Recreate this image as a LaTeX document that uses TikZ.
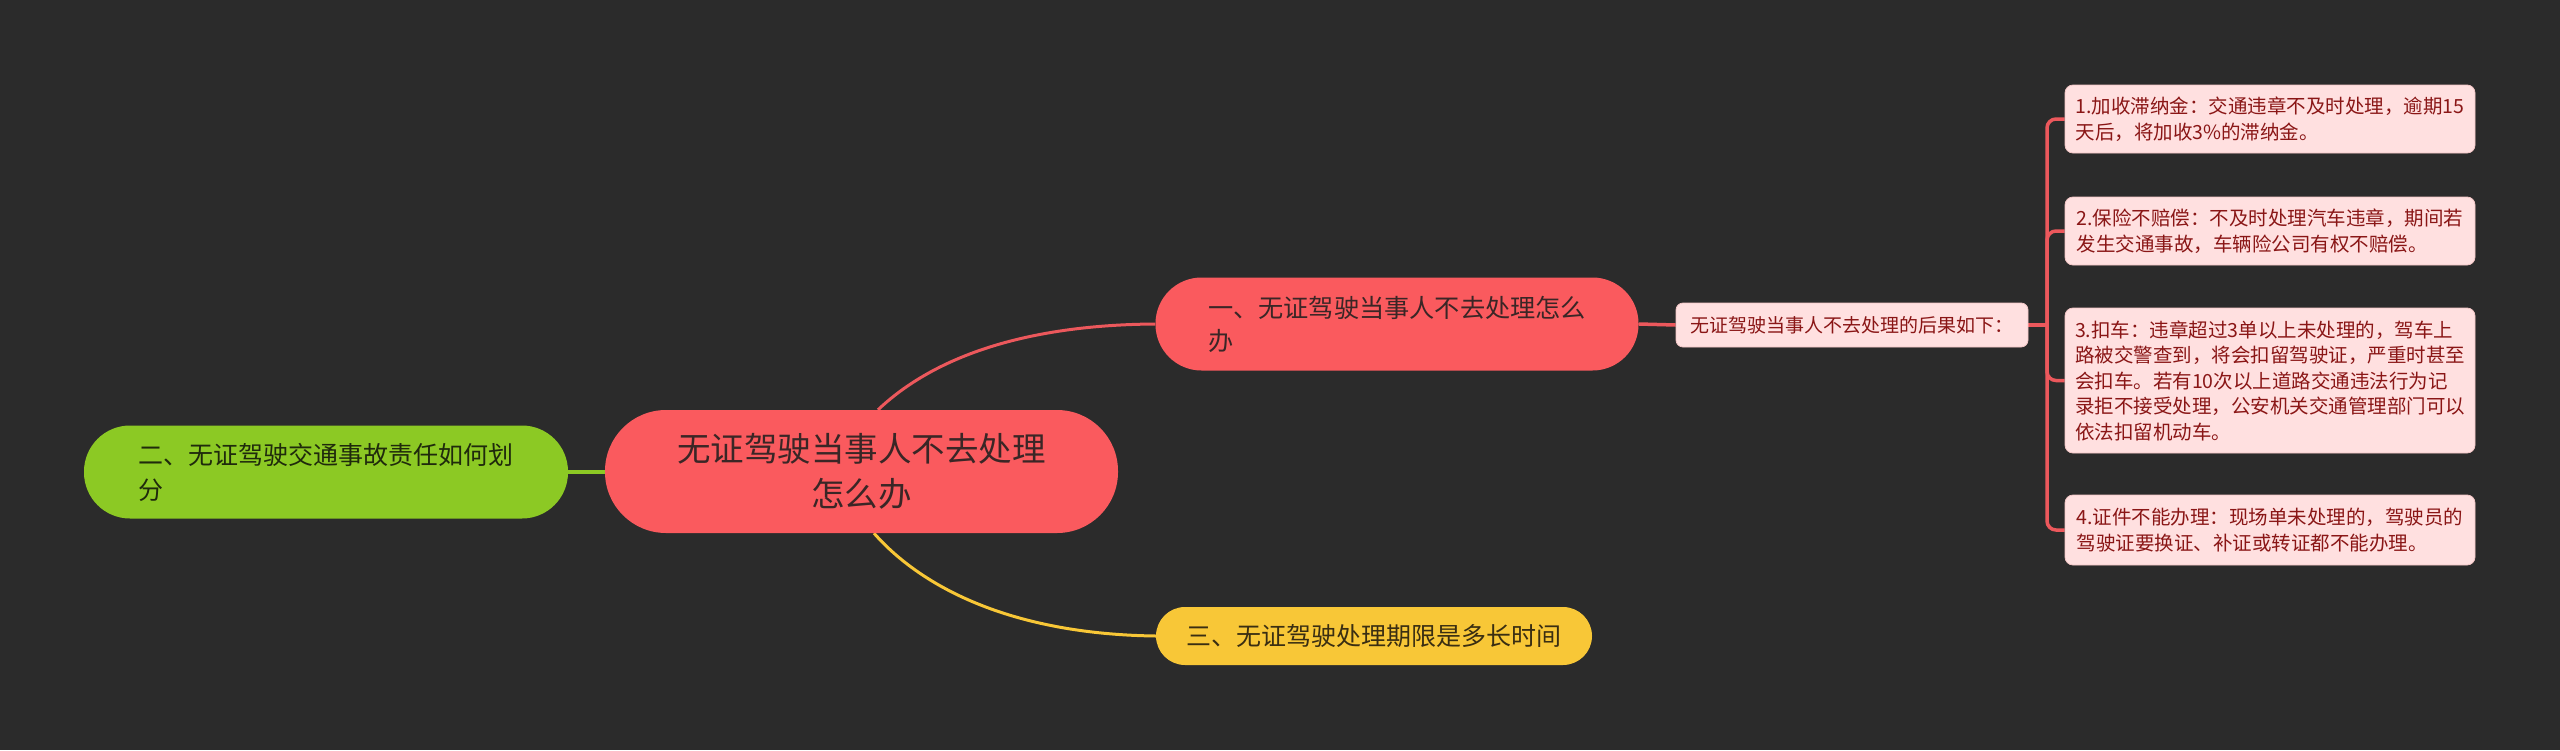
\documentclass[tikz,border=0pt]{standalone}
\usepackage{fontspec}
\usetikzlibrary{backgrounds}
\newfontfamily\cjk{Noto Sans CJK SC}
\definecolor{bgc}{HTML}{2B2B2B}
\definecolor{redfill}{HTML}{FA5A5E}
\definecolor{redline}{HTML}{EC585C}
\definecolor{darktext}{HTML}{3A2626}
\definecolor{greenfill}{HTML}{8CC924}
\definecolor{greentext}{HTML}{1F2A0C}
\definecolor{yellowfill}{HTML}{F8C737}
\definecolor{yellowtext}{HTML}{3A2E12}
\definecolor{leaffill}{HTML}{FFE0E0}
\definecolor{leaftext}{HTML}{8A1616}
\definecolor{leafedge}{HTML}{F2C6C6}
\tikzset{
  x=1pt, y=-1pt,
  rootbox/.style={fill=redfill, draw=none, rounded corners=61pt, minimum width=513pt, minimum height=123pt, align=center, text=darktext, font=\cjk\fontsize{33.5}{45}\selectfont, inner sep=0pt},
  redbox/.style={fill=redfill, draw=none, rounded corners=46pt, minimum width=483pt, minimum height=93pt, align=left, text=darktext, font=\cjk\fontsize{25.2}{33}\selectfont, inner sep=0pt},
  greenbox/.style={fill=greenfill, draw=none, rounded corners=46pt, minimum width=484pt, minimum height=93pt, align=left, text=greentext, font=\cjk\fontsize{25}{35}\selectfont, inner sep=0pt},
  yellowbox/.style={fill=yellowfill, draw=none, rounded corners=29pt, minimum width=436pt, minimum height=58pt, align=left, text=yellowtext, font=\cjk\fontsize{25}{33}\selectfont, inner sep=0pt},
  infobox/.style={fill=leaffill, draw=leafedge, line width=0.8pt, rounded corners=7pt, minimum width=352pt, minimum height=44pt, align=left, text=leaftext, font=\cjk\fontsize{19}{25}\selectfont, inner sep=0pt},
  leafbox/.style={fill=leaffill, draw=leafedge, line width=0.8pt, rounded corners=8pt, minimum width=410pt, align=left, text=leaftext, font=\cjk\fontsize{19.5}{25.5}\selectfont, inner sep=0pt},
  redconn/.style={draw=redline, line width=3pt},
  redbranch/.style={draw=redline, line width=3.5pt},
  yellowconn/.style={draw=yellowfill, line width=3pt},
  greenconn/.style={draw=greenfill, line width=3.5pt},
}
\begin{document}
\begin{tikzpicture}
\useasboundingbox (0,0) rectangle (2560,750);

\node[rootbox] (root) at (861.5,471.5) {无证驾驶当事人不去处理\\怎么办};
\node[redbox] (b1) at (1397,324) {一、无证驾驶当事人不去处理怎么\\办};
\node[greenbox] (b2) at (326,472) {二、无证驾驶交通事故责任如何划\\分};
\node[yellowbox] (b3) at (1374,636) {三、无证驾驶处理期限是多长时间};
\node[infobox] (info) at (1852,325) {无证驾驶当事人不去处理的后果如下：};
\node[leafbox, minimum height=68pt] (l1) at (2270,119) {1.加收滞纳金：交通违章不及时处理，逾期15\\天后，将加收3\%的滞纳金。};
\node[leafbox, minimum height=68pt] (l2) at (2270,231) {2.保险不赔偿：不及时处理汽车违章，期间若\\发生交通事故，车辆险公司有权不赔偿。};
\node[leafbox, minimum height=145pt] (l3) at (2270,380.5) {3.扣车：违章超过3单以上未处理的，驾车上\\路被交警查到，将会扣留驾驶证，严重时甚至\\会扣车。若有10次以上道路交通违法行为记\\录拒不接受处理，公安机关交通管理部门可以\\依法扣留机动车。};
\node[leafbox, minimum height=70pt] (l4) at (2270,530) {4.证件不能办理：现场单未处理的，驾驶员的\\驾驶证要换证、补证或转证都不能办理。};

\coordinate (fork) at (2047,325);

\begin{pgfonlayer}{background}
\fill[bgc] (0,0) rectangle (2560,750);
\draw[redconn] ([xshift=16.5pt]root.north) .. controls (920,370) and (1000,325) .. (b1.west);
\draw[yellowconn] ([xshift=12.5pt]root.south) .. controls (915,580) and (1000,634) .. (b3.west);
\draw[greenconn] (b2.east) -- (root.west |- b2.east);
\draw[redbranch] (b1.east) -- (info.west);
\draw[redbranch] (info.east) -- (fork);
\draw[redbranch, rounded corners=9pt] (fork) |- (l1.west);
\draw[redbranch, rounded corners=9pt] (fork) |- (l2.west);
\draw[redbranch, rounded corners=9pt] (fork) |- (l3.west);
\draw[redbranch, rounded corners=9pt] (fork) |- (l4.west);
\end{pgfonlayer}
\end{tikzpicture}
\end{document}
